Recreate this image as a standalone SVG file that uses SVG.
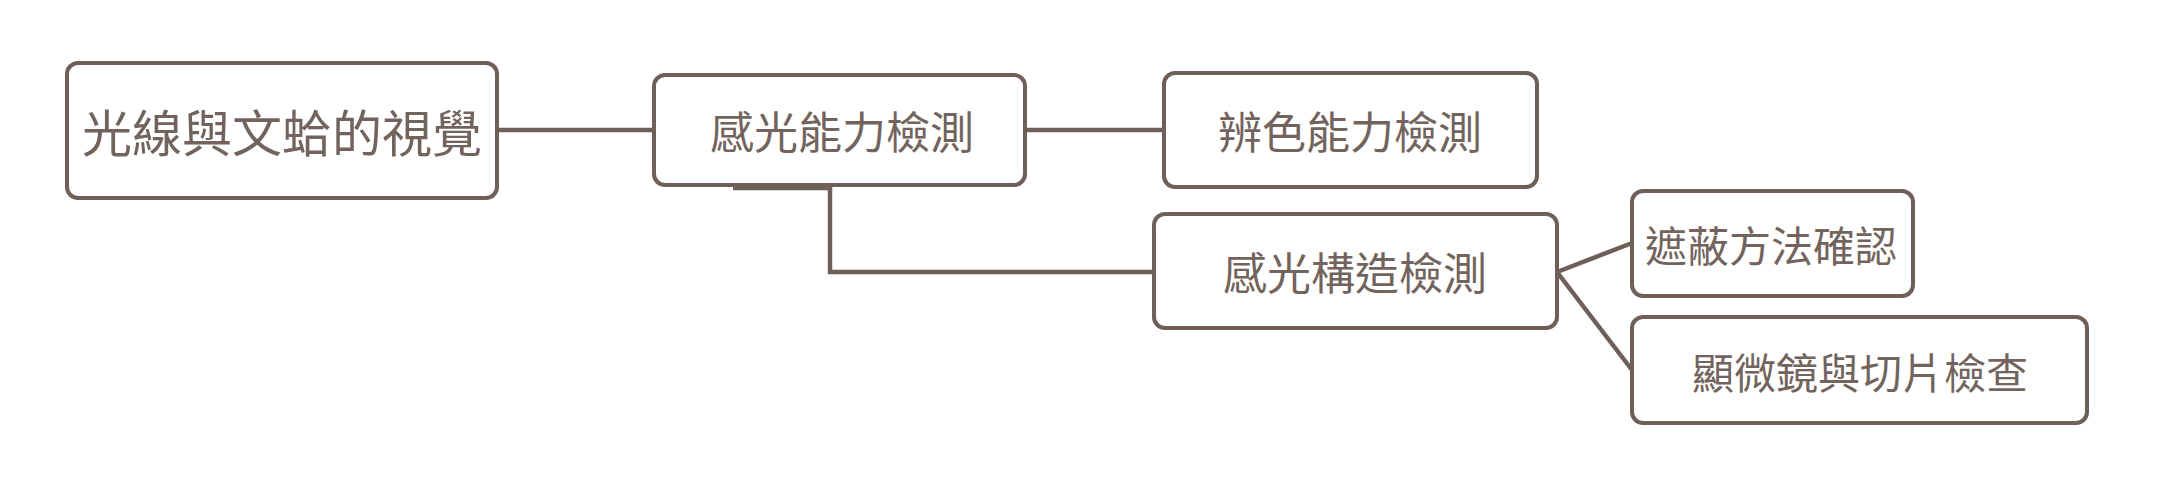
<svg xmlns="http://www.w3.org/2000/svg" width="2164" height="481" viewBox="0 0 2164 481">
<style>
.box{fill:#ffffff;stroke:#6e5f58;stroke-width:4}
.lbl{font-family:"Noto Sans CJK TC","Noto Sans CJK SC",sans-serif;fill:#72645d;text-anchor:middle;dominant-baseline:central}
.conn{fill:none;stroke:#6e5f58;stroke-width:4.5}
</style>
<rect width="2164" height="481" fill="#ffffff"/>
<g id="connectors">
<path class="conn" d="M497,130 H654"/>
<path class="conn" d="M1025,130 H1164"/>
<path class="conn" d="M733,188 H830 V272 H1154"/>
<path class="conn" d="M1557,272 L1632,243"/>
<path class="conn" d="M1557,272 L1632,370"/>
</g>
<g id="node-root">
<rect class="box" x="67" y="63" width="430" height="135" rx="11"/>
<text class="lbl" x="282" y="130" font-size="50">光線與文蛤的視覺</text>
</g>
<g id="node-sense">
<rect class="box" x="654" y="75" width="371" height="110" rx="11"/>
<text class="lbl" x="842" y="130" font-size="44">感光能力檢測</text>
</g>
<g id="node-color">
<rect class="box" x="1164" y="73" width="373" height="114" rx="11"/>
<text class="lbl" x="1350" y="130" font-size="44">辨色能力檢測</text>
</g>
<g id="node-structure">
<rect class="box" x="1154" y="214" width="403" height="114" rx="11"/>
<text class="lbl" x="1355" y="271" font-size="44">感光構造檢測</text>
</g>
<g id="node-mask">
<rect class="box" x="1632" y="191" width="281" height="105" rx="11"/>
<text class="lbl" x="1771" y="243" font-size="42">遮蔽方法確認</text>
</g>
<g id="node-micro">
<rect class="box" x="1632" y="317" width="455" height="106" rx="11"/>
<text class="lbl" x="1860" y="370" font-size="42">顯微鏡與切片檢查</text>
</g>
</svg>
